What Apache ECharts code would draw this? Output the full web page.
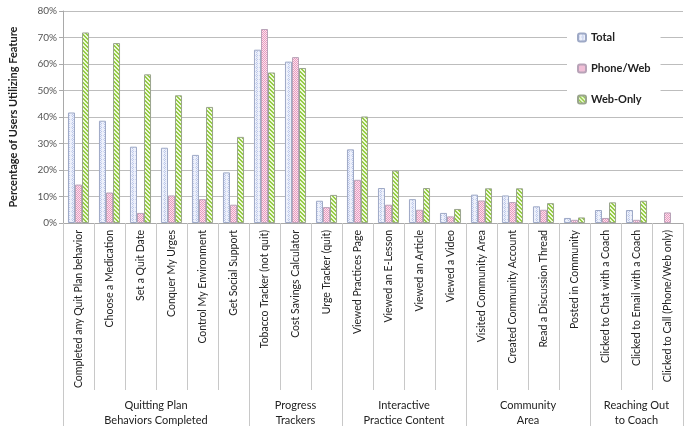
<!DOCTYPE html>
<html>
<head>
<meta charset="utf-8">
<script src="https://cdn.jsdelivr.net/npm/echarts@6/dist/echarts.min.js"></script>
<style>html,body{margin:0;padding:0;background:#fff;}#c{width:695px;height:433px;}</style>
</head>
<body>
<div id="c"></div>
<script>
const categories = ['Completed any Quit Plan behavior','Choose a Medication','Set a Quit Date','Conquer My Urges','Control My Environment','Get Social Support','Tobacco Tracker (not quit)','Cost Savings Calculator','Urge Tracker (quit)','Viewed Practices Page','Viewed an E-Lesson','Viewed an Article','Viewed a Video','Visited Community Area','Created Community Account','Read a Discussion Thread','Posted in Community','Clicked to Chat with a Coach','Clicked to Email with a Coach','Clicked to Call (Phone/Web only)'];
const groupNames = ['Quitting Plan\nBehaviors Completed','Progress\nTrackers','Interactive\nPractice Content','Community\nArea','Reaching Out\nto Coach'];
const groupSizes = [6, 3, 4, 4, 3];
const seriesNames = ['Total','Phone/Web','Web-Only'];
const total = [41.7, 38.6, 28.8, 28.4, 25.7, 19.1, 65.4, 60.9, 8.4, 27.8, 13.2, 9.0, 3.8, 10.7, 10.4, 6.3, 1.9, 4.9, 4.9, null];
const phoneWeb = [14.5, 11.5, 3.8, 10.4, 9.0, 6.9, 73.2, 62.6, 6.0, 16.3, 6.9, 5.0, 2.5, 8.5, 7.9, 5.0, 1.2, 1.9, 1.2, 4.0];
const webOnly = [71.9, 67.9, 56.1, 48.2, 43.8, 32.5, 56.8, 58.5, 10.6, 40.2, 19.8, 13.2, 5.3, 13.1, 13.1, 7.5, 2.1, 7.8, 8.4, null];
const yTicks = [0, 10, 20, 30, 40, 50, 60, 70, 80];

// group boundaries & centers derived from group sizes
const bounds = [0];
groupSizes.forEach(s => bounds.push(bounds[bounds.length - 1] + s));
const centers = groupSizes.map((s, i) => bounds[i] + s / 2);

function makePattern(kind) {
  const cv = document.createElement('canvas');
  cv.width = 4; cv.height = 4;
  const ctx = cv.getContext('2d');
  if (kind === 'total') {
    ctx.fillStyle = '#eef1fb'; ctx.fillRect(0, 0, 4, 4);
    ctx.fillStyle = '#b9c5e8';
    [[0,0],[2,0],[1,1],[3,1],[0,2],[2,2],[1,3],[3,3]].forEach((p, i) => { if (i % 2 === 0) ctx.fillRect(p[0], p[1], 1, 1); });
    ctx.fillStyle = '#cfd8f1';
    [[1,1],[3,3]].forEach(p => ctx.fillRect(p[0], p[1], 1, 1));
  } else if (kind === 'phone') {
    ctx.fillStyle = '#fbe3ee'; ctx.fillRect(0, 0, 4, 4);
    ctx.fillStyle = '#e89bc0';
    [[0,0],[2,0],[1,1],[3,1],[0,2],[2,2],[1,3],[3,3]].forEach(p => ctx.fillRect(p[0], p[1], 1, 1));
  } else {
    ctx.fillStyle = '#eef8dc'; ctx.fillRect(0, 0, 4, 4);
    ctx.fillStyle = '#95cc45';
    for (let y = 0; y < 4; y++) { for (let k = 0; k < 2; k++) { ctx.fillRect((y + k) % 4, y, 1, 1); } }
  }
  return { image: cv, repeat: 'repeat' };
}

const chart = echarts.init(document.getElementById('c'), null, { renderer: 'canvas' });
const font = 'Lato, "Open Sans", sans-serif';
const option = {
  animation: false,
  textStyle: { fontFamily: font },
  grid: { left: 57, right: 12, top: 11, bottom: 210, containLabel: false },
  legend: {
    orient: 'vertical', left: 567, top: 22,
    padding: [10, 10, 10, 10],
    backgroundColor: '#ffffff',
    itemWidth: 8, itemHeight: 8, itemGap: 20,
    textStyle: { fontFamily: font, fontWeight: 'bold', fontSize: 11, color: '#222' },
    data: seriesNames
  },
  xAxis: [
    {
      type: 'category', data: categories,
      axisLine: { show: true, lineStyle: { color: '#a9a9a9' } },
      axisTick: { show: true, interval: 0, length: 167, lineStyle: { color: '#c8c8c8' } },
      axisLabel: { interval: 0, rotate: 90, margin: 7, fontSize: 10.5, color: '#222', fontFamily: font },
      splitLine: { show: false }
    },
    {
      type: 'value', min: bounds[0], max: bounds[bounds.length - 1], position: 'bottom',
      axisLine: { show: false },
      axisTick: { show: true, length: 203, customValues: bounds, lineStyle: { color: '#c8c8c8' } },
      axisLabel: {
        show: true, customValues: centers, margin: 175, fontSize: 11, lineHeight: 15, color: '#222', fontFamily: font,
        formatter: function (v) { const i = centers.indexOf(v); return i >= 0 ? groupNames[i] : ''; }
      },
      splitLine: { show: false }
    }
  ],
  yAxis: {
    type: 'value', min: yTicks[0], max: yTicks[yTicks.length - 1], interval: 10,
    name: 'Percentage of Users Utilizing Feature', nameLocation: 'middle', nameGap: 44,
    nameTextStyle: { fontFamily: font, fontWeight: 'bold', fontSize: 11, color: '#222' },
    axisLine: { show: true, lineStyle: { color: '#a9a9a9' } },
    axisTick: { show: true, length: 4, lineStyle: { color: '#a9a9a9' } },
    axisLabel: { formatter: '{value}%', fontSize: 10, color: '#555', margin: 6, fontFamily: font },
    splitLine: { show: true, lineStyle: { color: '#bdbdbd' } }
  },
  series: [
    { name: seriesNames[0], type: 'bar', data: total, barGap: '0%', barCategoryGap: '32%',
      itemStyle: { color: makePattern('total'), borderColor: '#9ea9c6', borderWidth: 1 } },
    { name: seriesNames[1], type: 'bar', data: phoneWeb, barGap: '0%', barCategoryGap: '32%',
      itemStyle: { color: makePattern('phone'), borderColor: '#b8a3b8', borderWidth: 1 } },
    { name: seriesNames[2], type: 'bar', data: webOnly, barGap: '0%', barCategoryGap: '32%',
      itemStyle: { color: makePattern('web'), borderColor: '#9aa58e', borderWidth: 1 } }
  ]
};
chart.setOption(option);
</script>
</body>
</html>
